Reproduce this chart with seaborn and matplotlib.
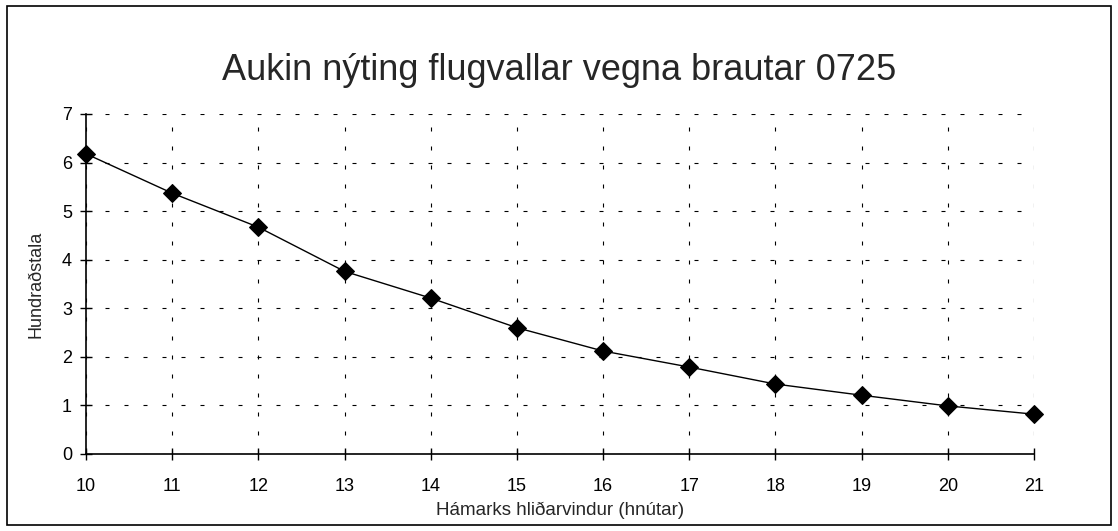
import matplotlib
matplotlib.use("Agg")
import matplotlib.pyplot as plt
from matplotlib.patches import Rectangle
import seaborn as sns
import pandas as pd

# Data
wind_knots = [10, 11, 12, 13, 14, 15, 16, 17, 18, 19, 20, 21]
percent = [6.18, 5.37, 4.67, 3.76, 3.21, 2.60, 2.12, 1.79, 1.44, 1.21, 0.99, 0.82]
y_ticks = [0, 1, 2, 3, 4, 5, 6, 7]

title = "Aukin nýting flugvallar vegna brautar 0725"
x_label = "Hámarks hliðarvindur (hnútar)"
y_label = "Hundraðstala"

df = pd.DataFrame({"wind": wind_knots, "pct": percent})

sns.set_style("white")
plt.rcParams["font.family"] = ["Liberation Sans", "DejaVu Sans"]

fig = plt.figure(figsize=(11.18, 5.31), dpi=100)
ax = fig.add_axes([86 / 1118, 1 - 454 / 531, (1034 - 86) / 1118, (454 - 114) / 531])

sns.lineplot(data=df, x="wind", y="pct", ax=ax, color="black", linewidth=1.0,
             marker="D", markersize=9, markeredgecolor="black",
             markerfacecolor="black", clip_on=False, zorder=5)

ax.set_xlim(10, 21)
ax.set_ylim(0, 7)
ax.set_xticks(wind_knots)
ax.set_yticks(y_ticks)
ax.grid(True, color="black", linestyle=(0, (3.6, 13.5)), linewidth=0.8)
ax.set_axisbelow(True)
for side in ["top", "right"]:
    ax.spines[side].set_visible(False)
for side in ["left", "bottom"]:
    ax.spines[side].set_color("black")
    ax.spines[side].set_linewidth(1.2)
ax.tick_params(axis="both", direction="inout", length=8, width=1, colors="black",
               labelsize=13, left=True, bottom=True)
ax.tick_params(axis="x", pad=13)
ax.tick_params(axis="y", pad=6)

ax.set_xlabel(x_label, fontsize=13.5)
ax.set_ylabel(y_label, fontsize=13)
ax.xaxis.set_label_coords(0.5, (454 - 510) / 340)
ax.xaxis.label.set_va("center")
ax.yaxis.set_label_coords((36 - 86) / 948, 0.5)
ax.yaxis.label.set_va("center")

fig.text(0.5, 1 - 70 / 531, title, ha="center", va="center", fontsize=26)

# frame round the whole chart
fig.patches.append(Rectangle((7 / 1118, 6 / 531), 1104 / 1118, 519 / 531,
                             transform=fig.transFigure, fill=False,
                             edgecolor="black", linewidth=1.2))

fig.savefig("out.png", dpi=100)
